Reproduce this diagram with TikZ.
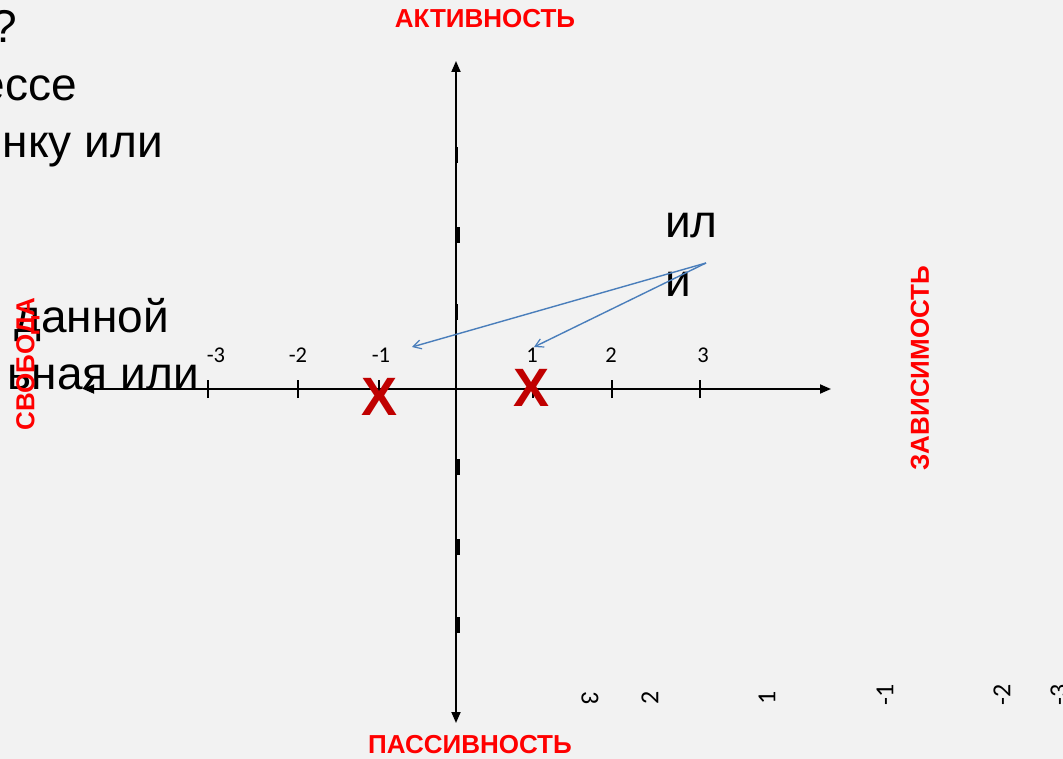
\documentclass[tikz,border=0pt]{standalone}
\usepackage{fontspec}
\setmainfont{Liberation Sans}
\newfontfamily\calfont{Carlito}
\usetikzlibrary{arrows.meta}
\definecolor{bgcol}{HTML}{F2F2F2}
\definecolor{lblred}{HTML}{FF0000}
\definecolor{xred}{HTML}{C00000}
\definecolor{arrblue}{HTML}{4A7EBB}
\tikzset{
  axisline/.style={line width=1.8pt, black, -{Triangle[length=11pt,width=9pt]}},
  htick/.style={line width=1.5pt, black},
  vtick/.style={line width=3pt, black},
  bigtxt/.style={inner sep=0pt, font=\fontsize{46}{55}\selectfont, text=black},
  axlbl/.style={inner sep=0pt, font=\fontsize{26}{30}\selectfont\bfseries, text=lblred},
  ticklbl/.style={inner sep=0pt, font=\calfont\fontsize{22.5}{26}\selectfont, text=black},
  rotlbl/.style={inner sep=0pt, font=\calfont\fontsize{26}{30}\selectfont, text=black},
  xmark/.style={inner sep=0pt, font=\fontsize{54}{64}\selectfont\bfseries, text=xred},
  bluearr/.style={line width=1.4pt, arrblue, -{Straight Barb[length=8pt,width=9pt,line width=1.2pt]}}
}
\begin{document}
\begin{tikzpicture}[x=1pt,y=-1pt]
\fill[bgcol] (0,0) rectangle (1063,759);
\useasboundingbox (0,0) rectangle (1063,759);
\clip (0,0) rectangle (1063,759);

% background text lines (cut at left edge)
\node[bigtxt, anchor=base east] (l1) at (17,43) {?};
\node[bigtxt, anchor=base east] (l2) at (77,101) {ессе};
\node[bigtxt, anchor=base east] (l3) at (163,158) {нку или};
\node[bigtxt, anchor=base east] (l4) at (169,333) {данной};
\node[bigtxt, anchor=base east] (l5) at (199,389) {ьная или};

% axes
\coordinate (hl) at (83,389);
\coordinate (hr) at (831,389);
\coordinate (vt) at (456,61);
\coordinate (vb) at (456,723);
\coordinate (o) at (456,389);
\draw[axisline] (o) -- (hr);
\draw[axisline] (o) -- (hl);
\draw[axisline] (o) -- (vt);
\draw[axisline] (o) -- (vb);

% horizontal ticks
\foreach \tx/\nm in {208/a,298/b,379/c,533/d,612/e,700/f}{
  \coordinate (ht\nm) at (\tx,389);
  \draw[htick] ([yshift=-9pt]ht\nm) -- ([yshift=9pt]ht\nm);
}
% vertical ticks
\foreach \ty/\nm in {235/a,467/b,547/c,625/d}{
  \coordinate (vt\nm) at (458,\ty);
  \draw[vtick] ([yshift=-8pt]vt\nm) -- ([yshift=8pt]vt\nm);
}
\foreach \ty/\nm in {155/e,312/f}{
  \coordinate (vt\nm) at (456.5,\ty);
  \draw[line width=2.6pt] ([yshift=-8pt]vt\nm) -- ([yshift=8pt]vt\nm);
}

% tick labels
\node[ticklbl] (m3) at (216,355) {-3};
\node[ticklbl] (m2) at (298,355) {-2};
\node[ticklbl] (m1) at (381,355) {-1};
\node[ticklbl] (p1) at (532,355) {1};
\node[ticklbl] (p2) at (611,355) {2};
\node[ticklbl] (p3) at (703,355) {3};

% X marks
\node[xmark] (x1) at (380,397) {X};
\node[xmark] (x2) at (532,388) {X};

% "или" text and arrows
\node[bigtxt, anchor=base west] (ili1) at (665,238) {ил};
\node[bigtxt, anchor=base west] (ili2) at (665,297) {и};
\coordinate (src) at (706,263);
\coordinate (tgl) at (412,347);
\coordinate (tgr) at (534,347);
\draw[bluearr] (src) -- (tgl);
\draw[bluearr] (src) -- (tgr);

% axis labels
\node[axlbl] (act) at (485,18.5) {АКТИВНОСТЬ};
\node[axlbl] (pas) at (470,745) {ПАССИВНОСТЬ};
\node[axlbl, rotate=90] (dep) at (920,368) {ЗАВИСИМОСТЬ};
\node[axlbl, rotate=90] (fre) at (28,364) {СВОБОДА};

% stray rotated numbers at bottom
\node[rotlbl, rotate=-90] (b3) at (590,698) {3};
\node[rotlbl, rotate=90] (b2) at (650,698) {2};
\node[rotlbl, rotate=90] (b1) at (767,698) {1};
\node[rotlbl, rotate=90] (bm1) at (885,695) {-1};
\node[rotlbl, rotate=90] (bm2) at (1002,695) {-2};
\node[rotlbl, rotate=90] (bm3) at (1059,695) {-3};
\end{tikzpicture}
\end{document}
